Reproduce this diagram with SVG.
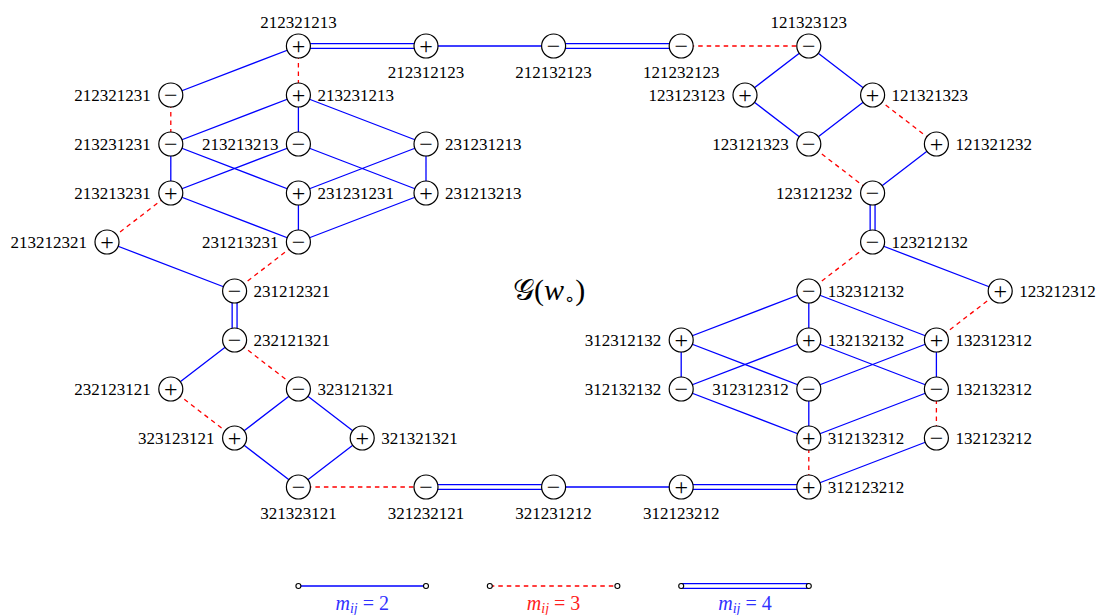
<svg xmlns="http://www.w3.org/2000/svg" width="1098" height="615" viewBox="0 0 1098 615">
<style>
.s{stroke:#0000ff;stroke-width:1.3;fill:none}
.d{stroke:#ff0000;stroke-width:1.3;fill:none;stroke-dasharray:4.5 4}
.do{stroke:#0000ff;stroke-width:6.2;fill:none}
.di{stroke:#ffffff;stroke-width:3.6;fill:none}
.n circle{fill:#fff;stroke:#000;stroke-width:1.2}
.sg{font-family:"Liberation Serif",serif;font-size:24px;text-anchor:middle;fill:#000}
.l{font-family:"Liberation Serif",serif;font-size:17px;fill:#000}
.r{text-anchor:start}.e{text-anchor:end}.m{text-anchor:middle}
.lg{font-family:"Liberation Serif",serif;font-size:20px;text-anchor:middle}
.sc{fill:#fff;stroke:#000;stroke-width:1.1}
</style>
<g id="connectors">
<g>
<path class="do" d="M298.4 46H426M553.6 46H681.2M234.6 291V340M426 487H553.6M681.2 487H808.8M872.6 193V242"/>
<path class="di" d="M298.4 46H426M553.6 46H681.2M234.6 291V340M426 487H553.6M681.2 487H808.8M872.6 193V242"/>
</g>
<path class="s" d="M426 46H553.6M553.6 487H681.2
M298.4 46L170.8 95
M298.4 95L170.8 144M298.4 95V144M298.4 95L426 144
M170.8 144V193M170.8 144L298.4 193
M298.4 144L170.8 193M298.4 144L426 193
M426 144L298.4 193M426 144V193
M170.8 193L298.4 242M298.4 193V242M426 193L298.4 242
M107 242L234.6 291
M234.6 340L170.8 389
M298.4 389L234.6 438M298.4 389L362.2 438
M234.6 438L298.4 487M362.2 438L298.4 487
M808.8 487L936.4 438
M808.8 291L681.2 340M808.8 291V340M808.8 291L936.4 340
M681.2 340V389M681.2 340L808.8 389
M808.8 340L681.2 389M808.8 340L936.4 389
M936.4 340L808.8 389M936.4 340V389
M681.2 389L808.8 438M808.8 389V438M936.4 389L808.8 438
M1000.2 291L872.6 242
M872.6 193L936.4 144
M808.8 144L745 95M808.8 144L872.6 95
M745 95L808.8 46M872.6 95L808.8 46"/>
<path class="d" d="M681.2 46H808.8
M298.4 46V95
M170.8 95V144
M170.8 193L107 242
M298.4 242L234.6 291
M234.6 340L298.4 389
M170.8 389L234.6 438
M298.4 487H426
M808.8 487V438
M936.4 438V389
M936.4 340L1000.2 291
M872.6 242L808.8 291
M872.6 193L808.8 144
M936.4 144L872.6 95"/>
</g>
<g id="n1" class="n"><circle cx="298.4" cy="46" r="12"/><text class="sg" x="298.4" y="54">+</text><text class="l m" x="298.4" y="27.5">212321213</text></g>
<g id="n2" class="n"><circle cx="426" cy="46" r="12"/><text class="sg" x="426" y="54">+</text><text class="l m" x="426" y="77.5">212312123</text></g>
<g id="n3" class="n"><circle cx="553.6" cy="46" r="12"/><text class="sg" x="553.6" y="54">−</text><text class="l m" x="553.6" y="77.5">212132123</text></g>
<g id="n4" class="n"><circle cx="681.2" cy="46" r="12"/><text class="sg" x="681.2" y="54">−</text><text class="l m" x="681.2" y="77.5">121232123</text></g>
<g id="n5" class="n"><circle cx="808.8" cy="46" r="12"/><text class="sg" x="808.8" y="54">−</text><text class="l m" x="808.8" y="27.5">121323123</text></g>
<g id="n6" class="n"><circle cx="170.8" cy="95" r="12"/><text class="sg" x="170.8" y="103">−</text><text class="l e" x="150.8" y="100.8">212321231</text></g>
<g id="n7" class="n"><circle cx="298.4" cy="95" r="12"/><text class="sg" x="298.4" y="103">+</text><text class="l r" x="317.4" y="100.8">213231213</text></g>
<g id="n8" class="n"><circle cx="745" cy="95" r="12"/><text class="sg" x="745" y="103">+</text><text class="l e" x="725" y="100.8">123123123</text></g>
<g id="n9" class="n"><circle cx="872.6" cy="95" r="12"/><text class="sg" x="872.6" y="103">+</text><text class="l r" x="891.6" y="100.8">121321323</text></g>
<g id="n10" class="n"><circle cx="170.8" cy="144" r="12"/><text class="sg" x="170.8" y="152">−</text><text class="l e" x="150.8" y="149.8">213231231</text></g>
<g id="n11" class="n"><circle cx="298.4" cy="144" r="12"/><text class="sg" x="298.4" y="152">−</text><text class="l e" x="278.4" y="149.8">213213213</text></g>
<g id="n12" class="n"><circle cx="426" cy="144" r="12"/><text class="sg" x="426" y="152">−</text><text class="l r" x="445" y="149.8">231231213</text></g>
<g id="n13" class="n"><circle cx="808.8" cy="144" r="12"/><text class="sg" x="808.8" y="152">−</text><text class="l e" x="788.8" y="149.8">123121323</text></g>
<g id="n14" class="n"><circle cx="936.4" cy="144" r="12"/><text class="sg" x="936.4" y="152">+</text><text class="l r" x="955.4" y="149.8">121321232</text></g>
<g id="n15" class="n"><circle cx="170.8" cy="193" r="12"/><text class="sg" x="170.8" y="201">+</text><text class="l e" x="150.8" y="198.8">213213231</text></g>
<g id="n16" class="n"><circle cx="298.4" cy="193" r="12"/><text class="sg" x="298.4" y="201">+</text><text class="l r" x="317.4" y="198.8">231231231</text></g>
<g id="n17" class="n"><circle cx="426" cy="193" r="12"/><text class="sg" x="426" y="201">+</text><text class="l r" x="445" y="198.8">231213213</text></g>
<g id="n18" class="n"><circle cx="872.6" cy="193" r="12"/><text class="sg" x="872.6" y="201">−</text><text class="l e" x="852.6" y="198.8">123121232</text></g>
<g id="n19" class="n"><circle cx="107" cy="242" r="12"/><text class="sg" x="107" y="250">+</text><text class="l e" x="87" y="247.8">213212321</text></g>
<g id="n20" class="n"><circle cx="298.4" cy="242" r="12"/><text class="sg" x="298.4" y="250">−</text><text class="l e" x="278.4" y="247.8">231213231</text></g>
<g id="n21" class="n"><circle cx="872.6" cy="242" r="12"/><text class="sg" x="872.6" y="250">−</text><text class="l r" x="891.6" y="247.8">123212132</text></g>
<g id="n22" class="n"><circle cx="234.6" cy="291" r="12"/><text class="sg" x="234.6" y="299">−</text><text class="l r" x="253.6" y="296.8">231212321</text></g>
<g id="n23" class="n"><circle cx="808.8" cy="291" r="12"/><text class="sg" x="808.8" y="299">−</text><text class="l r" x="827.8" y="296.8">132312132</text></g>
<g id="n24" class="n"><circle cx="1000.2" cy="291" r="12"/><text class="sg" x="1000.2" y="299">+</text><text class="l r" x="1019.2" y="296.8">123212312</text></g>
<g id="n25" class="n"><circle cx="234.6" cy="340" r="12"/><text class="sg" x="234.6" y="348">−</text><text class="l r" x="253.6" y="345.8">232121321</text></g>
<g id="n26" class="n"><circle cx="681.2" cy="340" r="12"/><text class="sg" x="681.2" y="348">+</text><text class="l e" x="661.2" y="345.8">312312132</text></g>
<g id="n27" class="n"><circle cx="808.8" cy="340" r="12"/><text class="sg" x="808.8" y="348">+</text><text class="l r" x="827.8" y="345.8">132132132</text></g>
<g id="n28" class="n"><circle cx="936.4" cy="340" r="12"/><text class="sg" x="936.4" y="348">+</text><text class="l r" x="955.4" y="345.8">132312312</text></g>
<g id="n29" class="n"><circle cx="170.8" cy="389" r="12"/><text class="sg" x="170.8" y="397">+</text><text class="l e" x="150.8" y="394.8">232123121</text></g>
<g id="n30" class="n"><circle cx="298.4" cy="389" r="12"/><text class="sg" x="298.4" y="397">−</text><text class="l r" x="317.4" y="394.8">323121321</text></g>
<g id="n31" class="n"><circle cx="681.2" cy="389" r="12"/><text class="sg" x="681.2" y="397">−</text><text class="l e" x="661.2" y="394.8">312132132</text></g>
<g id="n32" class="n"><circle cx="808.8" cy="389" r="12"/><text class="sg" x="808.8" y="397">−</text><text class="l e" x="788.8" y="394.8">312312312</text></g>
<g id="n33" class="n"><circle cx="936.4" cy="389" r="12"/><text class="sg" x="936.4" y="397">−</text><text class="l r" x="955.4" y="394.8">132132312</text></g>
<g id="n34" class="n"><circle cx="234.6" cy="438" r="12"/><text class="sg" x="234.6" y="446">+</text><text class="l e" x="214.6" y="443.8">323123121</text></g>
<g id="n35" class="n"><circle cx="362.2" cy="438" r="12"/><text class="sg" x="362.2" y="446">+</text><text class="l r" x="381.2" y="443.8">321321321</text></g>
<g id="n36" class="n"><circle cx="808.8" cy="438" r="12"/><text class="sg" x="808.8" y="446">+</text><text class="l r" x="827.8" y="443.8">312132312</text></g>
<g id="n37" class="n"><circle cx="936.4" cy="438" r="12"/><text class="sg" x="936.4" y="446">−</text><text class="l r" x="955.4" y="443.8">132123212</text></g>
<g id="n38" class="n"><circle cx="298.4" cy="487" r="12"/><text class="sg" x="298.4" y="495">−</text><text class="l m" x="298.4" y="518.5">321323121</text></g>
<g id="n39" class="n"><circle cx="426" cy="487" r="12"/><text class="sg" x="426" y="495">−</text><text class="l m" x="426" y="518.5">321232121</text></g>
<g id="n40" class="n"><circle cx="553.6" cy="487" r="12"/><text class="sg" x="553.6" y="495">−</text><text class="l m" x="553.6" y="518.5">321231212</text></g>
<g id="n41" class="n"><circle cx="681.2" cy="487" r="12"/><text class="sg" x="681.2" y="495">+</text><text class="l m" x="681.2" y="518.5">312123212</text></g>
<g id="n42" class="n"><circle cx="808.8" cy="487" r="12"/><text class="sg" x="808.8" y="495">+</text><text class="l r" x="827.8" y="492.8">312123212</text></g>
<g id="title"><text x="513" y="300" font-family="DejaVu Serif, 'Liberation Serif', serif" font-size="30">𝒢<tspan font-family="'Liberation Serif',serif">(</tspan><tspan font-family="'Liberation Serif',serif" font-style="italic">w</tspan><tspan font-family="'DejaVu Sans',sans-serif" font-size="18" dy="5">∘</tspan><tspan font-family="'Liberation Serif',serif" dy="-5">)</tspan></text></g>
<g id="legend">
<line class="s" x1="298.4" y1="586" x2="426" y2="586"/>
<circle class="sc" cx="298.4" cy="586" r="2.5"/><circle class="sc" cx="426" cy="586" r="2.5"/>
<text class="lg" x="362.2" y="610" fill="#3030ff"><tspan font-style="italic">m</tspan><tspan font-style="italic" font-size="14" dy="3">ij</tspan><tspan dy="-3"> = 2</tspan></text>
<line class="d" x1="489.8" y1="586" x2="617.4" y2="586"/>
<circle class="sc" cx="489.8" cy="586" r="2.5"/><circle class="sc" cx="617.4" cy="586" r="2.5"/>
<text class="lg" x="553.6" y="610" fill="#ff2020"><tspan font-style="italic">m</tspan><tspan font-style="italic" font-size="14" dy="3">ij</tspan><tspan dy="-3"> = 3</tspan></text>
<line class="do" x1="681.2" y1="586" x2="808.8" y2="586"/><line class="di" x1="681.2" y1="586" x2="808.8" y2="586"/>
<circle class="sc" cx="681.2" cy="586" r="2.5"/><circle class="sc" cx="808.8" cy="586" r="2.5"/>
<text class="lg" x="745" y="610" fill="#3030ff"><tspan font-style="italic">m</tspan><tspan font-style="italic" font-size="14" dy="3">ij</tspan><tspan dy="-3"> = 4</tspan></text>
</g>
</svg>
